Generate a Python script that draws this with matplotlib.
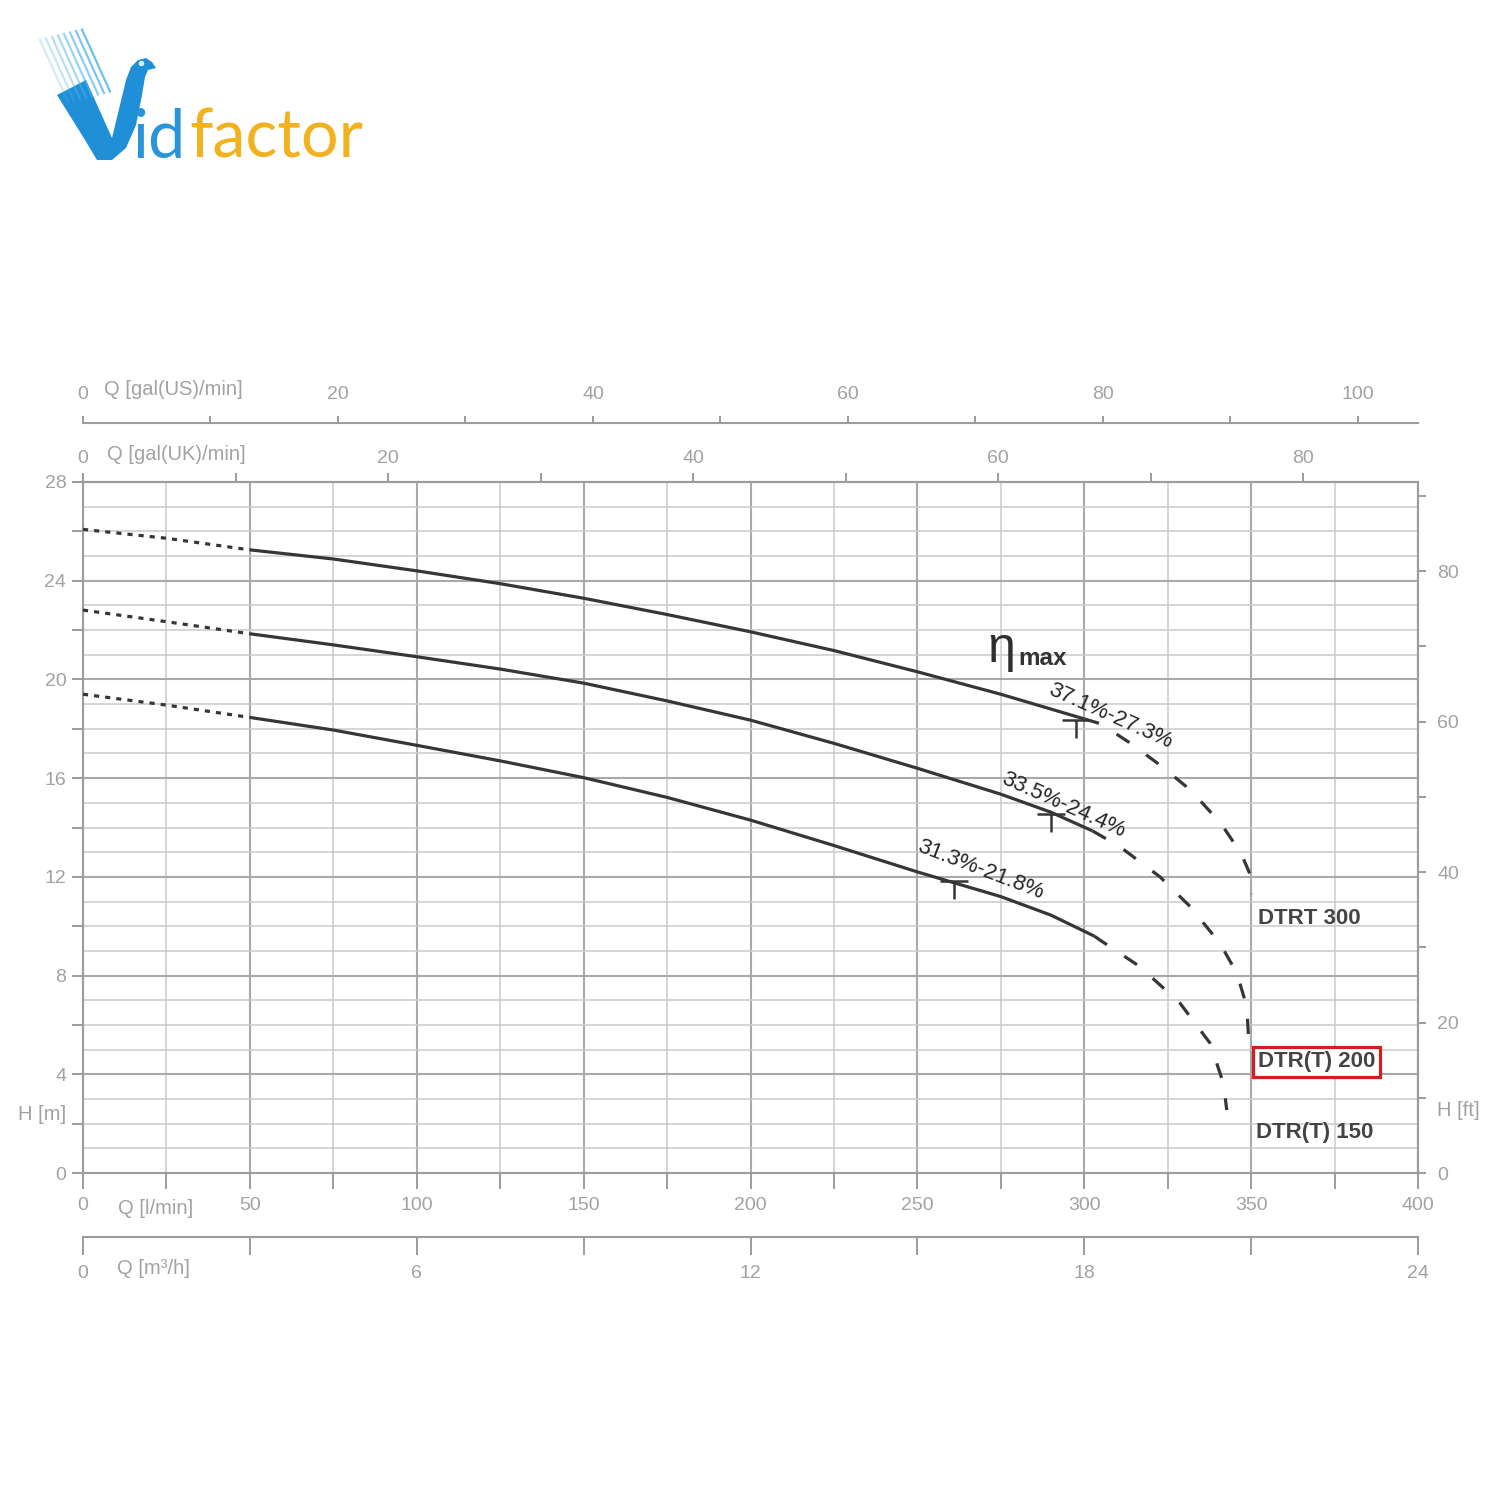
import numpy as np
import matplotlib
matplotlib.use("Agg")
import matplotlib.pyplot as plt
from matplotlib.ticker import MultipleLocator, FuncFormatter
from matplotlib.path import Path
from matplotlib.patches import Polygon

plt.rcParams['font.family'] = ['Liberation Sans', 'DejaVu Sans']

# ---------------- data (Q in l/min, H in m) ----------------
q_dot_300 = [0, 25, 50]
h_dot_300 = [26.08, 25.72, 25.25]
q_sol_300 = [50, 75, 100, 125, 150, 175, 200, 225, 250, 275, 300]
h_sol_300 = [25.25, 24.88, 24.4, 23.88, 23.29, 22.63, 21.93, 21.17, 20.31, 19.4, 18.4]
q_dsh_300 = [300, 305, 314, 323, 332, 341, 347, 350, 350.2]
h_dsh_300 = [18.4, 18.2, 17.4, 16.5, 15.5, 14.15, 12.95, 12.0, 11.3]

q_dot_200 = [0, 25, 50]
h_dot_200 = [22.81, 22.34, 21.85]
q_sol_200 = [50, 75, 100, 125, 150, 175, 200, 225, 250, 275, 290, 302.5]
h_sol_200 = [21.85, 21.4, 20.92, 20.42, 19.85, 19.13, 18.35, 17.41, 16.4, 15.35, 14.62, 13.86]
q_dsh_200 = [302.5, 310.7, 322.7, 331.7, 340.7, 345.7, 348.7, 349.3]
h_dsh_200 = [13.86, 13.22, 12.0, 10.8, 9.3, 8.1, 6.75, 5.3]

q_dot_150 = [0, 25, 50]
h_dot_150 = [19.40, 18.96, 18.46]
q_sol_150 = [50, 75, 100, 125, 150, 175, 200, 225, 250, 275, 290, 303]
h_sol_150 = [18.46, 17.95, 17.33, 16.7, 16.02, 15.22, 14.3, 13.27, 12.2, 11.2, 10.45, 9.6]
q_dsh_150 = [303, 304.7, 316.7, 328.7, 337.7, 341.7, 342.7]
h_dsh_150 = [9.6, 9.44, 8.36, 6.88, 5.26, 3.63, 2.55]

models = ["DTRT 300", "DTR(T) 200", "DTR(T) 150"]
eff_labels = ["37.1%-27.3%", "33.5%-24.4%", "31.3%-21.8%"]
eff_q = [297.5, 290, 261]
eff_h = [18.35, 14.55, 11.85]

# unit conversions for auxiliary axes
L_PER_USGAL = 3.82
L_PER_UKGAL = 4.57
M3H_PER_LMIN = 0.06
M_PER_FT = 0.3048

# ---------------- figure ----------------
W = H = 1500
fig = plt.figure(figsize=(15, 15), dpi=100)
fig.patch.set_facecolor('white')

def fx(x):
    return x / W

def fy(y):
    return 1 - y / H

GRID_L = '#cacaca'
GRID_D = '#a9a9a9'
AX_C = '#9c9c9c'
TXT_C = '#a2a2a2'
CURVE = '#363636'
FS = 14

ax = fig.add_axes([fx(83), fy(1173), fx(1418) - fx(83), fy(482) - fy(1173)])
ax.set_xlim(0, 400)
ax.set_ylim(0, 28)
ax.set_axisbelow(True)

ax.xaxis.set_major_locator(MultipleLocator(50))
ax.xaxis.set_minor_locator(MultipleLocator(25))
ax.yaxis.set_major_locator(MultipleLocator(2))
ax.yaxis.set_minor_locator(MultipleLocator(1))

ax.grid(which='minor', color=GRID_L, lw=1.1)
ax.grid(which='major', axis='y', color=GRID_L, lw=1.1)
ax.grid(which='major', axis='x', color=GRID_D, lw=1.5)
ax.hlines(np.arange(4, 28, 4), 0, 400, color=GRID_D, lw=1.5, zorder=0.6)

for s in ax.spines.values():
    s.set_color(AX_C)
    s.set_linewidth(1.5)

def yfmt(v, p):
    r = int(round(v))
    if r % 4 == 0:
        return str(r)
    return ''

ax.yaxis.set_major_formatter(FuncFormatter(yfmt))
ax.xaxis.set_major_formatter(FuncFormatter(lambda v, p: str(int(round(v)))))
ax.tick_params(axis='x', which='both', direction='out', length=11.5, width=1.4,
               color=AX_C, labelcolor=TXT_C, labelsize=FS, pad=5.5)
ax.tick_params(axis='y', which='major', direction='out', length=8, width=1.4,
               color=AX_C, labelcolor=TXT_C, labelsize=FS, pad=4)
ax.tick_params(axis='y', which='minor', length=0)

# UK gallons (top of frame)
ax_uk = ax.secondary_xaxis('top', functions=(lambda q: q / L_PER_UKGAL,
                                             lambda g: g * L_PER_UKGAL))
ax_uk.xaxis.set_major_locator(MultipleLocator(10))
ax_uk.xaxis.set_major_formatter(FuncFormatter(
    lambda v, p: str(int(round(v))) if int(round(v)) % 20 == 0 else ''))
ax_uk.tick_params(direction='out', length=6.5, width=1.4, color=AX_C,
                  labelcolor=TXT_C, labelsize=FS, pad=4)
for s in ax_uk.spines.values():
    s.set_color(AX_C)
    s.set_linewidth(1.5)

# US gallons (separate line above)
ax_us = ax.secondary_xaxis((1173 - 423) / 691, functions=(lambda q: q / L_PER_USGAL,
                                                         lambda g: g * L_PER_USGAL))
ax_us.xaxis.set_major_locator(MultipleLocator(10))
ax_us.xaxis.set_major_formatter(FuncFormatter(
    lambda v, p: str(int(round(v))) if int(round(v)) % 20 == 0 else ''))
ax_us.tick_params(direction='out', length=5, width=1.4, color=AX_C,
                  labelcolor=TXT_C, labelsize=FS, pad=9.5)
for s in ax_us.spines.values():
    s.set_color(AX_C)
    s.set_linewidth(1.5)

# m3/h (separate line below)
ax_m3 = ax.secondary_xaxis(-(1237 - 1173) / 691, functions=(lambda q: q * M3H_PER_LMIN,
                                                           lambda m: m / M3H_PER_LMIN))
ax_m3.xaxis.set_major_locator(MultipleLocator(3))
ax_m3.xaxis.set_major_formatter(FuncFormatter(
    lambda v, p: str(int(round(v))) if int(round(v)) % 6 == 0 else ''))
ax_m3.tick_params(direction='out', length=13, width=1.4, color=AX_C,
                  labelcolor=TXT_C, labelsize=FS, pad=7.5)
for s in ax_m3.spines.values():
    s.set_color(AX_C)
    s.set_linewidth(1.5)

# feet (right)
ax_ft = ax.secondary_yaxis('right', functions=(lambda h: h / M_PER_FT,
                                               lambda f: f * M_PER_FT))
ax_ft.yaxis.set_major_locator(MultipleLocator(10))
ax_ft.yaxis.set_major_formatter(FuncFormatter(
    lambda v, p: str(int(round(v))) if int(round(v)) % 20 == 0 else ''))
ax_ft.tick_params(direction='out', length=6, width=1.4, color=AX_C,
                  labelcolor=TXT_C, labelsize=FS, pad=8)
for s in ax_ft.spines.values():
    s.set_color(AX_C)
    s.set_linewidth(1.5)

# axis names
fig.text(fx(104), fy(389), 'Q [gal(US)/min]', ha='left', va='center', color=TXT_C, fontsize=FS + 0.5)
fig.text(fx(107), fy(455), 'Q [gal(UK)/min]', ha='left', va='center', color=TXT_C, fontsize=FS + 0.5)
fig.text(fx(118), fy(1208), 'Q [l/min]', ha='left', va='center', color=TXT_C, fontsize=FS + 0.5)
fig.text(fx(117), fy(1268), 'Q [m³/h]', ha='left', va='center', color=TXT_C, fontsize=FS + 0.5)
fig.text(fx(66), fy(1115), 'H [m]', ha='right', va='center', color=TXT_C, fontsize=FS + 0.5)
fig.text(fx(1437), fy(1110), 'H [ft]', ha='left', va='center', color=TXT_C, fontsize=FS + 0.5)

# ---------------- curves ----------------
LW = 2.3
dot_style = (0, (1.6, 1.9))
dash_style = (0, (4.8, 6.5))
curves = [
    (q_dot_300, h_dot_300, q_sol_300, h_sol_300, q_dsh_300, h_dsh_300),
    (q_dot_200, h_dot_200, q_sol_200, h_sol_200, q_dsh_200, h_dsh_200),
    (q_dot_150, h_dot_150, q_sol_150, h_sol_150, q_dsh_150, h_dsh_150),
]
for qd, hd, qs, hs, qh, hh in curves:
    ax.plot(qd, hd, color=CURVE, lw=LW, ls=dot_style, zorder=3)
    ax.plot(qs, hs, color=CURVE, lw=LW, solid_capstyle='butt', solid_joinstyle='round', zorder=3)
    ax.plot(qh, hh, color=CURVE, lw=LW, ls=dash_style, zorder=3)

# efficiency markers (inverted T)
tmark = Path([(-1, 0), (1, 0), (0, 0), (0, -1.33)],
             [Path.MOVETO, Path.LINETO, Path.MOVETO, Path.LINETO])
ax.plot(eff_q, eff_h, ls='none', marker=tmark, markersize=26,
        markerfacecolor='none', markeredgecolor=CURVE, markeredgewidth=1.8, zorder=4)

# efficiency labels
lab_pos = [(307.7, 18.5, -24), (293.6, 14.9, -24), (268.8, 12.3, -21)]
for (qx, hy, rot), t in zip(lab_pos, eff_labels):
    ax.text(qx, hy, t, rotation=rot, rotation_mode='anchor', ha='center', va='center',
            fontsize=16, color='#262626', zorder=5)

ax.text(275.0, 21.25, 'η', fontsize=36, color='#2e2e2e', ha='center', va='center', zorder=5)
ax.text(280.3, 20.85, 'max', fontsize=17.5, fontweight='bold', color='#333333',
        ha='left', va='center', zorder=5)

# model labels
ax.text(352, 10.3, models[0], fontsize=16, fontweight='bold', color='#444444',
        ha='left', va='center', zorder=5)
ax.text(352, 4.5, models[1], fontsize=16, fontweight='bold', color='#444444',
        ha='left', va='center', zorder=5,
        bbox=dict(boxstyle='square,pad=0.22', fc='white', ec='#d11f1f', lw=2.3))
ax.text(351.5, 1.66, models[2], fontsize=16, fontweight='bold', color='#444444',
        ha='left', va='center', zorder=5)

# ---------------- logo ----------------
def P(pts):
    return [(fx(x), fy(y)) for x, y in pts]

for i in range(8):
    x0 = 40 + 6 * i
    y0 = 40 - 1.5 * i
    fig.add_artist(plt.Line2D([fx(x0), fx(x0 + 28)], [fy(y0), fy(y0 + 62)],
                              color='#4fb2ea', lw=1.6, alpha=0.25 + 0.08 * i,
                              transform=fig.transFigure))
bird = Polygon(P([(57, 95), (86, 80), (112, 138), (120, 105), (126, 80), (131, 67),
                  (138, 60), (146, 58), (152, 62), (156, 68), (148, 70), (145, 77),
                  (142, 95), (136, 125), (126, 148), (112, 160), (97, 160), (85, 140)]),
               closed=True, transform=fig.transFigure, fc='#1f8fd8', ec='none')
fig.add_artist(bird)
fig.add_artist(plt.Line2D([fx(141)], [fy(63)], marker='o', ms=3, color='#d4f0ff',
                          transform=fig.transFigure))
fig.text(fx(132), fy(158), 'id', fontsize=48, color='#2a94d9', family=['Lato', 'DejaVu Sans'],
         ha='left', va='baseline')
fig.text(fx(189), fy(158), 'factor', fontsize=48, color='#f2b11e', family=['Lato', 'DejaVu Sans'],
         ha='left', va='baseline')

fig.savefig('out.png', dpi=100, facecolor='white')
